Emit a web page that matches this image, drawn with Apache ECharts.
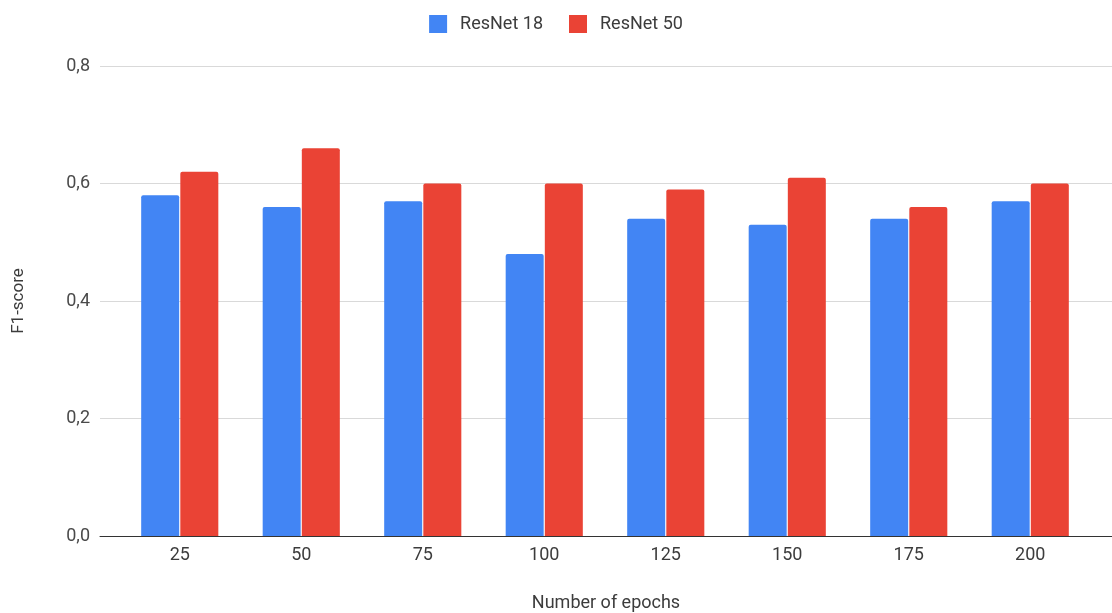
<!DOCTYPE html>
<html><head><meta charset="utf-8">
<script src="https://cdn.jsdelivr.net/npm/echarts@6/dist/echarts.min.js"></script>
<style>html,body{margin:0;padding:0;background:#fff}#c{width:1112px;height:613px}</style>
</head><body><div id="c"></div>
<script>
const categories = ['25','50','75','100','125','150','175','200'];
const resnet18 = [0.58,0.56,0.57,0.48,0.54,0.53,0.54,0.57];
const resnet50 = [0.62,0.66,0.60,0.60,0.59,0.61,0.56,0.60];
const seriesNames = ['ResNet 18','ResNet 50'];
const yTicks = [0,0.2,0.4,0.6,0.8];

const font = 'Roboto, Arial, sans-serif';
const chart = echarts.init(document.getElementById('c'));
chart.setOption({
  animation:false,
  textStyle:{fontFamily:font},
  legend:{top:10,left:'center',itemWidth:18,itemHeight:18,itemGap:26,icon:'rect',
    textStyle:{fontSize:18,color:'#3c3c3c',fontFamily:font,padding:[0,0,0,8]},data:seriesNames},
  grid:[
    {left:100,right:0,top:66,bottom:77,outerBoundsMode:'none'},
    {left:119,right:21,top:66,bottom:77,outerBoundsMode:'none'}
  ],
  xAxis:[
    {gridIndex:0,type:'value',min:0,max:1,show:true,axisLine:{show:true,onZero:false,lineStyle:{color:'#333',width:1}},
     axisTick:{show:false},axisLabel:{show:false},splitLine:{show:false},
     name:'Number of epochs',nameLocation:'middle',nameGap:58,nameTextStyle:{fontSize:18,color:'#3c3c3c',fontFamily:font}},
    {gridIndex:1,type:'category',data:categories,axisLine:{show:false},axisTick:{show:false},
     axisLabel:{fontSize:18,color:'#3c3c3c',margin:10,fontFamily:font}}
  ],
  yAxis:[
    {gridIndex:0,type:'value',min:0,max:0.8,interval:0.2,
     axisLabel:{fontSize:18,color:'#4a4a4a',margin:10,fontFamily:font,formatter:v=>v.toFixed(1).replace('.',',')},
     axisLine:{show:false},axisTick:{show:false},
     splitLine:{lineStyle:{color:'#d9d9d9',width:1}},
     name:'F1-score',nameLocation:'middle',nameGap:73,nameRotate:90,nameTextStyle:{fontSize:17,color:'#3c3c3c',fontFamily:font}},
    {gridIndex:1,type:'value',min:0,max:0.8,interval:0.2,show:false,splitLine:{show:false}}
  ],
  series:[
    {name:seriesNames[0],type:'bar',xAxisIndex:1,yAxisIndex:1,data:resnet18,barWidth:38,barGap:'3%',
     itemStyle:{color:'#4285F4',borderRadius:[2,2,0,0]}},
    {name:seriesNames[1],type:'bar',xAxisIndex:1,yAxisIndex:1,data:resnet50,barWidth:38,barGap:'3%',
     itemStyle:{color:'#EA4335',borderRadius:[2,2,0,0]}}
  ]
});
</script></body></html>
